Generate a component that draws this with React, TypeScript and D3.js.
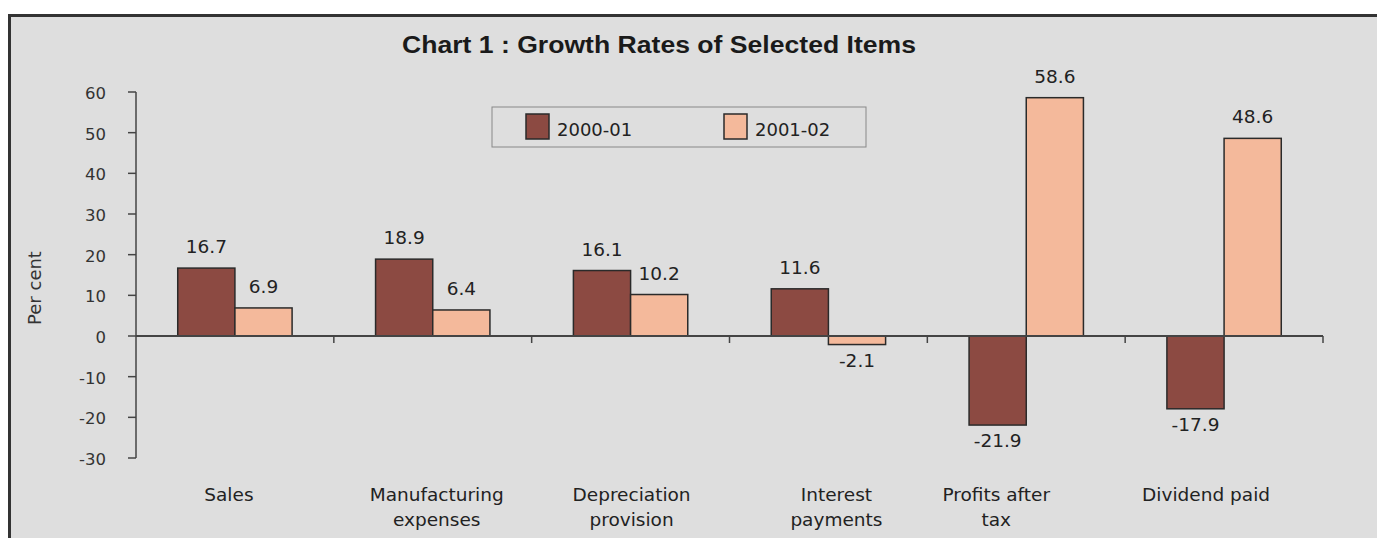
import React from "react";
import * as d3 from "d3";

const categories = [
  ["Sales"],
  ["Manufacturing", "expenses"],
  ["Depreciation", "provision"],
  ["Interest", "payments"],
  ["Profits after", "tax"],
  ["Dividend paid"],
];
const seriesNames = ["2000-01", "2001-02"];
const values2000 = [16.7, 18.9, 16.1, 11.6, -21.9, -17.9];
const values2001 = [6.9, 6.4, 10.2, -2.1, 58.6, 48.6];
const yTicks = [60, 50, 40, 30, 20, 10, 0, -10, -20, -30];

// layout tweaks (label nudges as in the original)
const labelNudge = [-6, 4, 1, 8, -30, -18];

const W = 1377;
const H = 538;
const colors = ["#8c4a42", "#f4b99b"];
const font = "'DejaVu Sans', 'Liberation Sans', Arial, sans-serif";

export default function App() {
  const keys = categories.map((c) => c.join(" "));
  const x = d3.scaleBand<string>().domain(keys).range([136, 1323]).paddingInner(0).paddingOuter(0);
  const x1 = d3.scaleBand<string>().domain(seriesNames).range([0, x.bandwidth()]).paddingInner(0).paddingOuter(0.73);
  const y = d3.scaleLinear().domain([-30, 60]).range([458, 92]);
  const series = [values2000, values2001];
  const y0 = y(0);

  return (
    <svg width={W} height={H} style={{ position: "absolute", left: 0, top: 0 }} fontFamily={font}>
      <rect x={0} y={0} width={W} height={H} fill="#ffffff" />
      <rect x={9.5} y={15.5} width={W + 10} height={H + 10} fill="#dedede" stroke="#333" strokeWidth={3} />
      <text
        x={402}
        y={53}
        fontSize={23}
        fontWeight="bold"
        fill="#1a1a1a"
        textLength={514}
        lengthAdjust="spacingAndGlyphs"
        fontFamily="'Liberation Sans', Arial, sans-serif"
      >
        Chart 1 : Growth Rates of Selected Items
      </text>
      {/* y axis */}
      <line x1={136} x2={136} y1={y(60)} y2={y(-30)} stroke="#444" strokeWidth={1.5} />
      {yTicks.map((t) => (
        <g key={t}>
          <line x1={128} x2={136} y1={y(t)} y2={y(t)} stroke="#444" strokeWidth={1.5} />
          <text x={106} y={y(t) + 7} textAnchor="end" fontSize={16.5} fill="#333">
            {t}
          </text>
        </g>
      ))}
      <text transform={`translate(41,288) rotate(-90)`} textAnchor="middle" fontSize={18} fill="#333">
        Per cent
      </text>
      {/* bars */}
      {series.map((vals, si) =>
        vals.map((v, i) => {
          const bx = (x(keys[i]) as number) + (x1(seriesNames[si]) as number);
          const bw = x1.bandwidth();
          const top = Math.min(y(v), y0);
          const h = Math.abs(y(v) - y0);
          return (
            <g key={`${si}-${i}`}>
              <rect x={bx} y={top} width={bw} height={h} fill={colors[si]} stroke="#2a2a2a" strokeWidth={1.5} />
              <text
                x={bx + bw / 2}
                y={v >= 0 ? y(v) - 15 : y(v) + 22}
                textAnchor="middle"
                fontSize={18.5}
                fill="#222"
              >
                {v.toFixed(1)}
              </text>
            </g>
          );
        })
      )}
      {/* x axis */}
      <line x1={136} x2={1323} y1={y0} y2={y0} stroke="#444" strokeWidth={2} />
      {keys.map((k) => (
        <line
          key={k}
          x1={(x(k) as number) + x.bandwidth()}
          x2={(x(k) as number) + x.bandwidth()}
          y1={y0}
          y2={y0 + 7}
          stroke="#444"
          strokeWidth={1.5}
        />
      ))}
      {categories.map((lines, i) => (
        <text key={i} textAnchor="middle" fontSize={18.5} fill="#222">
          {lines.map((l, li) => (
            <tspan key={li} x={(x(keys[i]) as number) + x.bandwidth() / 2 + labelNudge[i]} y={501 + li * 25}>
              {l}
            </tspan>
          ))}
        </text>
      ))}
      {/* legend */}
      <rect x={492} y={107} width={374} height={40} fill="#dedede" stroke="#888" strokeWidth={1} />
      {seriesNames.map((s, i) => (
        <g key={s} transform={`translate(${526 + i * 198},114)`}>
          <rect x={0} y={0} width={23} height={25} fill={colors[i]} stroke="#2a2a2a" strokeWidth={1.5} />
          <text x={31} y={22} fontSize={18} fill="#222">
            {s}
          </text>
        </g>
      ))}
    </svg>
  );
}
